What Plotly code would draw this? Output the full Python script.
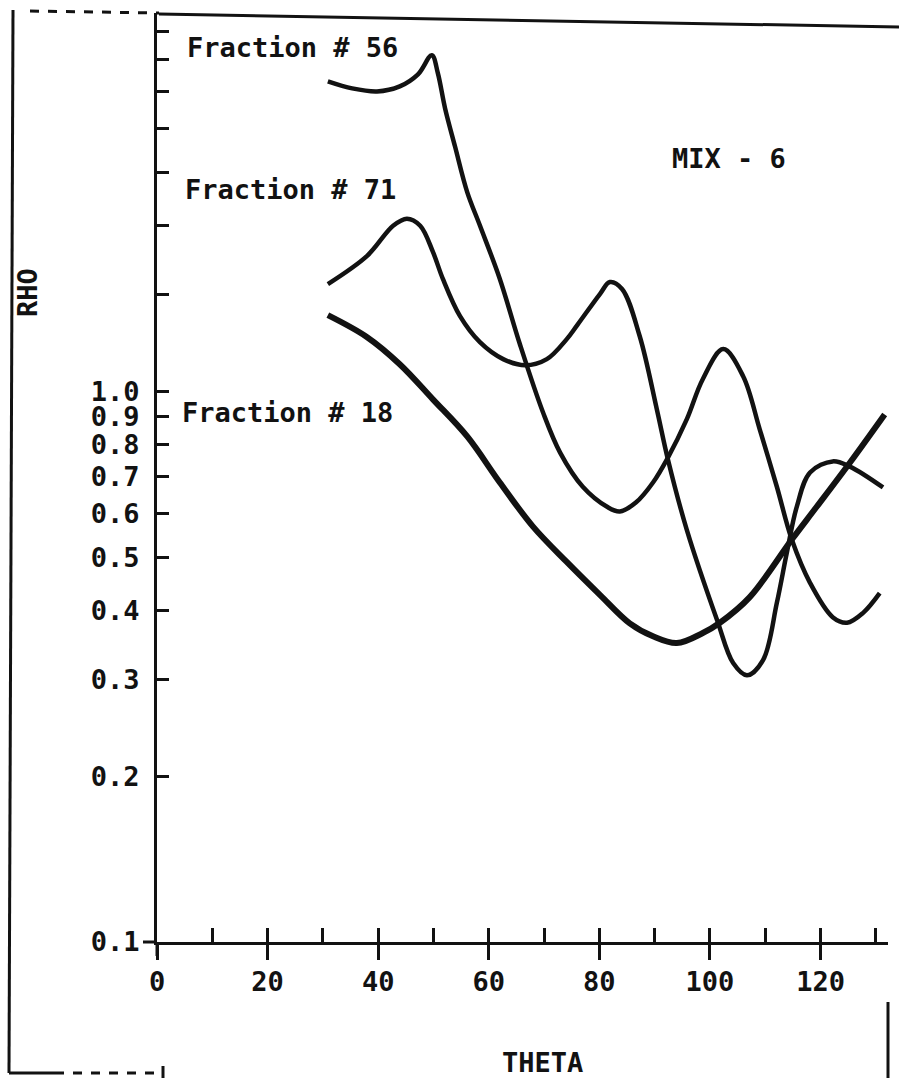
import plotly.graph_objects as go

# ---- data ----
theta_56 = [30.9, 35.3, 39.8, 43.9, 47.2, 49.7, 50.8, 52.1, 53.9, 56.1, 58.4, 62.0, 65.6, 69.8,
            72.9, 77.0, 81.4, 83.7, 86.6, 89.7, 92.4, 95.8, 98.7, 102.4, 106.0, 109.0, 112.1,
            114.8, 118.1, 122.2, 124.8, 127.7, 130.7]
rho_56 = [3.655, 3.549, 3.504, 3.578, 3.763, 4.076, 3.779, 3.264, 2.783, 2.300, 2.000, 1.600,
          1.220, 0.916, 0.774, 0.671, 0.617, 0.605, 0.628, 0.683, 0.758, 0.889, 1.052, 1.193,
          1.065, 0.853, 0.671, 0.538, 0.449, 0.389, 0.380, 0.396, 0.430]

theta_71 = [30.9, 38.0, 42.7, 45.2, 47.6, 49.9, 51.7, 54.8, 58.4, 62.6, 66.6, 70.5, 74.1, 76.0,
            80.1, 81.9, 84.1, 87.3, 90.4, 92.4, 95.8, 101.3, 104.2, 106.7, 109.6, 112.1, 113.9,
            115.7, 118.1, 122.2, 125.3, 131.3]
rho_71 = [1.566, 1.762, 1.998, 2.058, 1.998, 1.791, 1.600, 1.369, 1.228, 1.144, 1.115, 1.144,
          1.244, 1.319, 1.502, 1.579, 1.534, 1.259, 0.927, 0.752, 0.561, 0.384, 0.321, 0.305,
          0.325, 0.413, 0.509, 0.617, 0.712, 0.746, 0.730, 0.669]

theta_18 = [30.9, 38.0, 43.9, 49.9, 56.1, 62.0, 68.0, 74.1, 80.1, 85.5, 89.7, 94.0, 98.7, 101.8,
            107.2, 114.8, 119.3, 125.3, 131.6]
rho_18 = [1.375, 1.254, 1.120, 0.967, 0.828, 0.683, 0.568, 0.490, 0.427, 0.379, 0.359, 0.349,
          0.364, 0.380, 0.423, 0.538, 0.617, 0.742, 0.908]

x_major_ticks = [0, 20, 40, 60, 80, 100, 120]
x_all_ticks = [0, 10, 20, 30, 40, 50, 60, 70, 80, 90, 100, 110, 120, 130]
y_tick_vals = [0.1, 0.2, 0.3, 0.4, 0.5, 0.6, 0.7, 0.8, 0.9, 1.0, 1.5, 2.0, 2.5, 3.0, 3.5, 4.0, 4.5]
y_tick_text = ["0.1", "0.2", "0.3", "0.4", "0.5", "0.6", "0.7", "0.8", "0.9", "1.0",
               "", "", "", "", "", "", ""]

INK = "#121212"
FONT = "DejaVu Sans Mono"

W, H = 899, 1078
L, R, T, B = 157, 11, 13, 136


def px(x):
    return (x - L) / (W - L - R)


def py(y):
    return (H - B - y) / (H - B - T)


fig = go.Figure()
fig.add_trace(go.Scatter(x=theta_56, y=rho_56, mode="lines",
                         line=dict(color=INK, width=4.5, shape="spline", smoothing=1.0),
                         showlegend=False))
fig.add_trace(go.Scatter(x=theta_71, y=rho_71, mode="lines",
                         line=dict(color=INK, width=4.5, shape="spline", smoothing=1.0),
                         showlegend=False))
fig.add_trace(go.Scatter(x=theta_18, y=rho_18, mode="lines", xaxis="x2",
                         line=dict(color=INK, width=6, shape="spline", smoothing=1.0),
                         showlegend=False))

tick_font = dict(family=FONT, size=27, color=INK, weight="bold")

fig.update_layout(
    width=W, height=H,
    margin=dict(l=L, r=R, t=T, b=B),
    paper_bgcolor="white", plot_bgcolor="white",
    xaxis=dict(range=[0, 132.2], showgrid=False, zeroline=False,
               showline=True, linecolor=INK, linewidth=3,
               tickmode="array", tickvals=x_major_ticks,
               ticks="outside", ticklen=15, tickwidth=3, tickcolor=INK,
               tickfont=tick_font, ticklabelstandoff=-1),
    xaxis2=dict(range=[0, 132.2], overlaying="x", anchor="y", side="bottom",
                showgrid=False, zeroline=False, showline=False,
                tickmode="array", tickvals=x_all_ticks, showticklabels=False,
                ticks="inside", ticklen=14, tickwidth=3, tickcolor=INK),
    yaxis=dict(type="log", range=[-1, 0.687], showgrid=False, zeroline=False,
               showline=True, linecolor=INK, linewidth=3,
               tickmode="array", tickvals=y_tick_vals, ticktext=y_tick_text,
               ticks="inside", ticklen=12, tickwidth=3, tickcolor=INK,
               tickfont=tick_font, ticklabelstandoff=9),
)

ann_font = dict(family=FONT, size=27, color=INK, weight="bold")
annotations = [
    ("Fraction # 56", 185, 48, "left", 0),
    ("Fraction # 71", 183, 190, "left", 0),
    ("Fraction # 18", 180, 413, "left", 0),
    ("MIX - 6", 729, 159, "center", 0),
    ("RHO", 27, 293, "center", -90),
    ("THETA", 542, 1062, "center", 0),
]
for text, x, y, anchor, ang in annotations:
    fig.add_annotation(text=text, x=px(x), y=py(y), xref="paper", yref="paper",
                       xanchor=anchor, yanchor="middle", showarrow=False,
                       textangle=ang, font=ann_font)

# frame / decoration lines (pixel positions converted to paper coordinates)
lines = [
    ((159, 14), (899, 27), "solid", 3),      # top border
    ((30, 11), (159, 13), "dash", 3),        # top-left dashed border
    ((13, 10), (9, 1073), "solid", 3),       # left frame
    ((9, 1073), (55, 1073), "solid", 3),     # bottom-left solid
    ((55, 1073), (163, 1073), "dash", 3),    # bottom-left dashed
    ((163, 1066), (163, 1078), "solid", 3),  # small tick
    ((888, 1002), (888, 1078), "solid", 3),  # right frame bit
    ((143, 942), (157, 942), "solid", 3),    # x-axis extension left
    ((157, 942), (157, 956), "solid", 3),    # y-axis extension down
]
for (x0, y0), (x1, y1), dash, w in lines:
    fig.add_shape(type="line", xref="paper", yref="paper",
                  x0=px(x0), y0=py(y0), x1=px(x1), y1=py(y1),
                  line=dict(color=INK, width=w, dash=dash))

fig.write_html("out.html")
